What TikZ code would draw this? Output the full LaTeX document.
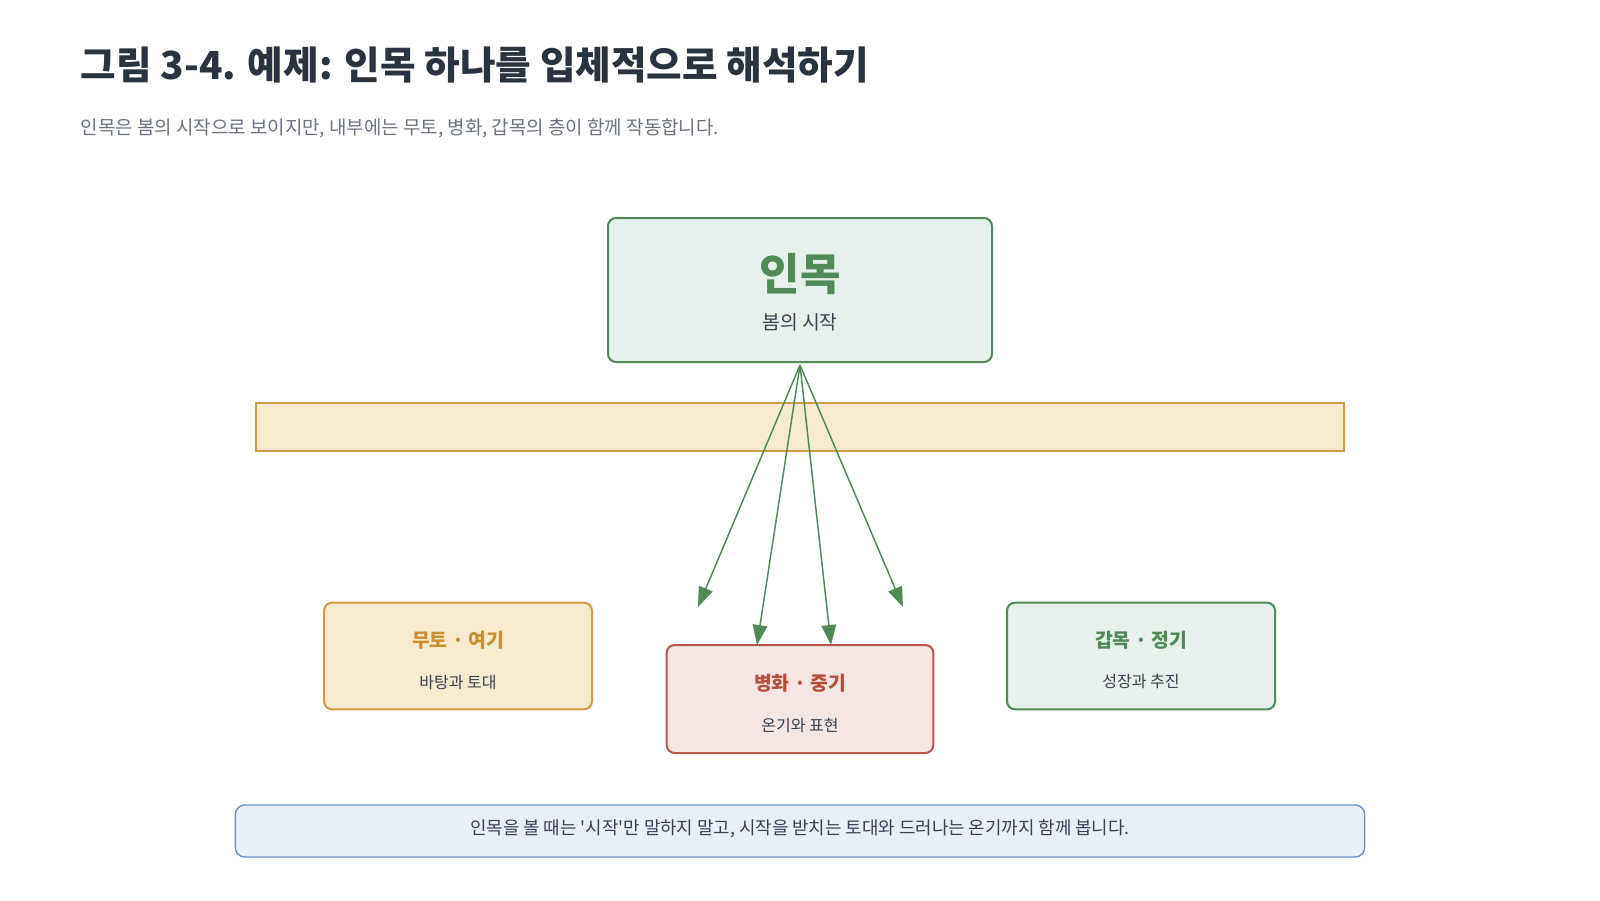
\documentclass[tikz,border=0pt]{standalone}
\usepackage{fontspec}
\setmainfont{Noto Sans CJK KR}[Ligatures=TeXOff]
\usetikzlibrary{arrows.meta}
\definecolor{gborder}{HTML}{4F8A57}
\definecolor{gfill}{HTML}{E7F1EC}
\definecolor{oborder}{HTML}{D19A45}
\definecolor{ofill}{HTML}{F6EACF}
\definecolor{otext}{HTML}{C98F30}
\definecolor{rborder}{HTML}{B9574B}
\definecolor{rfill}{HTML}{F5E6E4}
\definecolor{rtext}{HTML}{B5503F}
\definecolor{bborder}{HTML}{6B8FC4}
\definecolor{bfill}{HTML}{E8EFF8}
\definecolor{titlec}{HTML}{2A3440}
\definecolor{subc}{HTML}{6B7280}
\definecolor{darkt}{HTML}{374151}
\tikzset{
  card/.style={draw, line width=1.5pt, rounded corners=6pt, inner sep=0pt},
  greencard/.style={card, draw=gborder, fill=gfill},
  orangecard/.style={card, draw=oborder, fill=ofill},
  redcard/.style={card, draw=rborder, fill=rfill},
  bluecard/.style={draw=bborder, fill=bfill, line width=1pt, rounded corners=7pt, inner sep=0pt},
  head/.style={font=\bfseries\fontsize{14.5pt}{16pt}\selectfont},
  sub/.style={text=darkt, font=\fontsize{12pt}{14pt}\selectfont},
  flow/.style={draw=gborder, line width=1.1pt, -{Triangle[length=15pt,width=11pt]}},
}
\begin{document}
\begin{tikzpicture}[x=0.75pt,y=-0.75pt]
\useasboundingbox (0,0) rectangle (1600,900);
% title
\node[anchor=west, text=titlec, font=\bfseries\fontsize{29pt}{32pt}\selectfont] (title) at (76,65) {그림 3-4. 예제: 인목 하나를 입체적으로 해석하기};
\node[anchor=west, text=subc, font=\fontsize{14.2pt}{16pt}\selectfont] (subtitle) at (76,128) {인목은 봄의 시작으로 보이지만, 내부에는 무토, 병화, 갑목의 층이 함께 작동합니다.};
% band
\node[draw=oborder, fill=ofill, line width=0.8pt, minimum width=816pt, minimum height=36pt, inner sep=0pt] (band) at (800,427) {};
% top box
\node[greencard, minimum width=288pt, minimum height=108pt] (top) at (800,290) {};
\node[text=gborder, font=\bfseries\fontsize{33pt}{35pt}\selectfont] (topt) at (800,274) {인목};
\node[sub, font=\fontsize{14.5pt}{16pt}\selectfont] (tops) at (800,322) {봄의 시작};
% bottom boxes
\node[orangecard, minimum width=201pt, minimum height=80pt] (mu) at (458,656) {};
\node[head, text=otext] (mut) at (458,640) {무토 · 여기};
\node[sub] (mus) at (458,682) {바탕과 토대};
\node[redcard, minimum width=200pt, minimum height=81pt] (byeong) at (800,699) {};
\node[head, text=rtext] (byt) at (800,683) {병화 · 중기};
\node[sub] (bys) at (800,725) {온기와 표현};
\node[greencard, minimum width=201pt, minimum height=80pt] (gap) at (1141,656) {};
\node[head, text=gborder] (gapt) at (1141,640) {갑목 · 정기};
\node[sub] (gaps) at (1141,682) {성장과 추진};
% arrows
\coordinate (src) at (800,365);
\coordinate (e1) at (698,607);
\coordinate (e2) at (757,645);
\coordinate (e3) at (831,645);
\coordinate (e4) at (903,607);
\draw[flow] (src) -- (e1);
\draw[flow] (src) -- (e2);
\draw[flow] (src) -- (e3);
\draw[flow] (src) -- (e4);
% note
\node[bluecard, minimum width=847pt, minimum height=39pt] (note) at (800,831) {};
\node[text=darkt, font=\fontsize{13.4pt}{15pt}\selectfont] (notet) at (800,829) {인목을 볼 때는 '시작'만 말하지 말고, 시작을 받치는 토대와 드러나는 온기까지 함께 봅니다.};
\end{tikzpicture}
\end{document}
